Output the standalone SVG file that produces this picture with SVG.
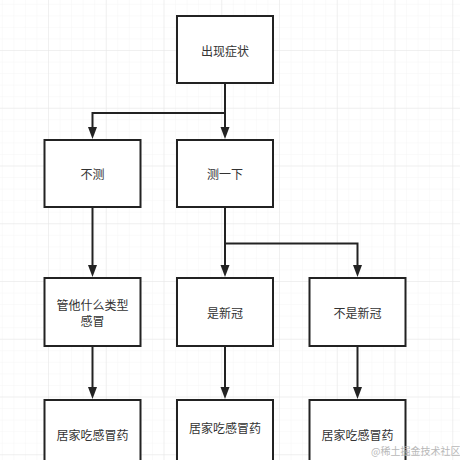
<svg xmlns="http://www.w3.org/2000/svg" width="460" height="460" viewBox="0 0 460 460">
<defs>
<pattern id="minor" x="48" y="50" width="11.55" height="11.55" patternUnits="userSpaceOnUse">
<path d="M0 0 H11.55 M0 0 V11.55" fill="none" stroke="#f5f5f5" stroke-width="1"/>
</pattern>
<pattern id="major" x="48" y="50" width="57.75" height="57.75" patternUnits="userSpaceOnUse">
<path d="M0 0 H57.75 M0 0 V57.75" fill="none" stroke="#e6e6e6" stroke-width="1"/>
</pattern>
<style>
.box{fill:#fff;stroke:#222;stroke-width:2}
.t{font-family:"Noto Sans CJK SC","Liberation Sans",sans-serif;font-size:12px;fill:#333;text-anchor:middle;dominant-baseline:central}
.c{fill:none;stroke:#222;stroke-width:2}
.ah{fill:#222}
.wm{font-family:"Noto Sans CJK SC",serif;font-size:10px;fill:#b8b8b8}
</style>
</defs>
<rect width="460" height="460" fill="#fff"/>
<rect width="460" height="460" fill="url(#minor)"/>
<rect width="460" height="460" fill="url(#major)"/>
<g id="connectors">
<path class="c" d="M225 83 V130"/>
<path class="c" d="M225 113 H92.5 V130"/>
<path class="c" d="M92.5 207 V268"/>
<path class="c" d="M225 207 V268"/>
<path class="c" d="M225 243.5 H357.5 V268"/>
<path class="c" d="M92.5 346 V390"/>
<path class="c" d="M225 346 V390"/>
<path class="c" d="M357.5 346 V390"/>
<path class="ah" d="M220.5 127 L229.5 127 L225 139 Z"/>
<path class="ah" d="M88 127 L97 127 L92.5 139 Z"/>
<path class="ah" d="M88 265 L97 265 L92.5 277 Z"/>
<path class="ah" d="M220.5 265 L229.5 265 L225 277 Z"/>
<path class="ah" d="M353 265 L362 265 L357.5 277 Z"/>
<path class="ah" d="M88 387 L97 387 L92.5 399 Z"/>
<path class="ah" d="M220.5 387 L229.5 387 L225 399 Z"/>
<path class="ah" d="M353 387 L362 387 L357.5 399 Z"/>
</g>
<g id="n-symptom"><rect class="box" x="177" y="16" width="96" height="67"/><text class="t" x="225" y="50">出现症状</text></g>
<g id="n-notest"><rect class="box" x="44.5" y="140" width="96" height="67"/><text class="t" x="92.5" y="173.5">不测</text></g>
<g id="n-test"><rect class="box" x="177" y="140" width="96" height="67"/><text class="t" x="225" y="173.5">测一下</text></g>
<g id="n-whatever"><rect class="box" x="44.5" y="278" width="96" height="68"/><text class="t" x="92.5" y="304">管他什么类型</text><text class="t" x="92.5" y="320">感冒</text></g>
<g id="n-covid"><rect class="box" x="177" y="278" width="96" height="68"/><text class="t" x="225" y="312">是新冠</text></g>
<g id="n-notcovid"><rect class="box" x="309.5" y="278" width="96" height="68"/><text class="t" x="357.5" y="312">不是新冠</text></g>
<g id="n-med1"><rect class="box" x="44.5" y="400" width="96" height="70"/><text class="t" x="92.5" y="434">居家吃感冒药</text></g>
<g id="n-med2"><rect class="box" x="177" y="400" width="96" height="70"/><text class="t" x="225" y="427">居家吃感冒药</text></g>
<g id="n-med3"><rect class="box" x="309.5" y="400" width="96" height="70"/><text class="t" x="357.5" y="434">居家吃感冒药</text></g>
<text class="wm" x="371" y="455">@稀土掘金技术社区</text>
</svg>
